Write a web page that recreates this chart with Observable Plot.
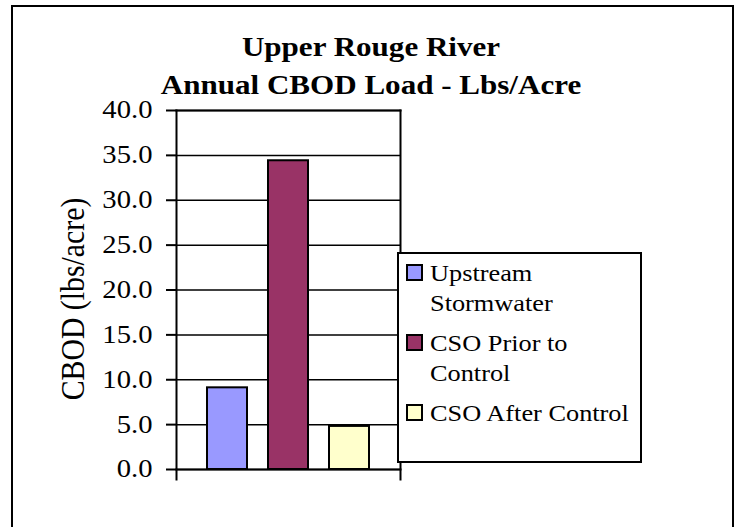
<!DOCTYPE html>
<html><head><meta charset="utf-8">
<script src="https://cdn.jsdelivr.net/npm/d3@7"></script>
<script src="https://cdn.jsdelivr.net/npm/@observablehq/plot@0.6"></script>
<style>
html,body{margin:0;padding:0;background:#fff;overflow:hidden}
#wrap{position:relative;width:742px;height:527px;overflow:hidden;font-family:"Liberation Serif","Times New Roman",serif;color:#000}
#chart{position:absolute;left:0;top:0}
#frame{position:absolute;left:11px;top:5px;width:723px;height:560px;border:2px solid #000;box-sizing:border-box;pointer-events:none}
#title{position:absolute;left:0;width:742px;top:27.5px;text-align:center;font-weight:bold;font-size:27px;line-height:38px;transform:scaleX(1.15);transform-origin:371px 0;white-space:nowrap}
#legend{position:absolute;left:397px;top:252px;width:245px;height:211px;box-sizing:border-box;border:2px solid #000;background:#fff}
.sw{position:absolute;left:6.5px;width:17px;height:17px;box-sizing:border-box;border:2px solid #000}
.lab{position:absolute;left:31px;width:182px;font-size:22.7px;line-height:30px;transform:scaleX(1.16);transform-origin:0 0}
</style></head>
<body>
<div id="wrap">
  <div id="chart"></div>
  <div id="frame"></div>
  <div id="title"></div>
  <div id="legend"></div>
</div>
<script>
const titleLines = ["Upper Rouge River", "Annual CBOD Load - Lbs/Acre"];
const yLabel = "CBOD (lbs/acre)";
const series = ["Upstream Stormwater", "CSO Prior to Control", "CSO After Control"];
const values = [9.1, 34.4, 4.8];
const colors = ["#9999ff", "#993366", "#ffffcc"];
const yTicks = [0, 5, 10, 15, 20, 25, 30, 35, 40];

const data = series.map((s, i) => ({series: s, value: values[i]}));

const chart = Plot.plot({
  width: 742, height: 527,
  marginLeft: 176, marginRight: 342, marginTop: 110, marginBottom: 58,
  style: {background: "transparent", fontFamily: '"Liberation Serif", serif', fontSize: "24.7px", color: "#000"},
  x: {type: "band", domain: series, paddingInner: 0.34, paddingOuter: 0.5, align: 0.5, axis: null},
  y: {domain: [0, 40], axis: null},
  color: {domain: series, range: colors},
  marks: [
    Plot.ruleY(yTicks, {stroke: "#000", strokeWidth: 1.5}),
    Plot.barY(data, {x: "series", y: "value", fill: "series", stroke: "#000", strokeWidth: 2}),
    Plot.frame({anchor: "left", stroke: "#000", strokeWidth: 2, insetBottom: -10}),
    Plot.frame({anchor: "right", stroke: "#000", strokeWidth: 2, insetBottom: -10}),
    Plot.frame({anchor: "bottom", stroke: "#000", strokeWidth: 2}),
    Plot.frame({anchor: "top", stroke: "#000", strokeWidth: 2}),
    Plot.axisY({ticks: yTicks, tickSize: 10, tickPadding: 14, tickFormat: d3.format(".1f"), fontSize: 24.7, label: null, color: "#000", strokeWidth: 2}),
    Plot.text([yLabel], {frameAnchor: "left", text: d => d, rotate: -90, textAnchor: "middle", lineAnchor: "middle", dx: -104, dy: 9, fontSize: 29.8, fill: "#000"})
  ]
});
document.getElementById("chart").append(chart);

// horizontal stretch of glyphs, as in the reference
chart.querySelectorAll("text").forEach(t => {
  const tr = t.getAttribute("transform") || "";
  if (/rotate/.test(tr)) t.setAttribute("transform", tr + " scale(1,1.16)");
  else t.setAttribute("transform", tr + " scale(1.16,1)");
});

const title = document.getElementById("title");
titleLines.forEach(l => { const d = document.createElement("div"); d.textContent = l; title.append(d); });

const legend = document.getElementById("legend");
series.forEach((s, i) => {
  const top = 5.3 + i * 70;
  const sw = document.createElement("div");
  sw.className = "sw"; sw.style.top = (top + 4.5) + "px"; sw.style.background = colors[i];
  const lab = document.createElement("div");
  lab.className = "lab"; lab.style.top = top + "px"; lab.textContent = s;
  legend.append(sw, lab);
});
</script>
</body></html>
